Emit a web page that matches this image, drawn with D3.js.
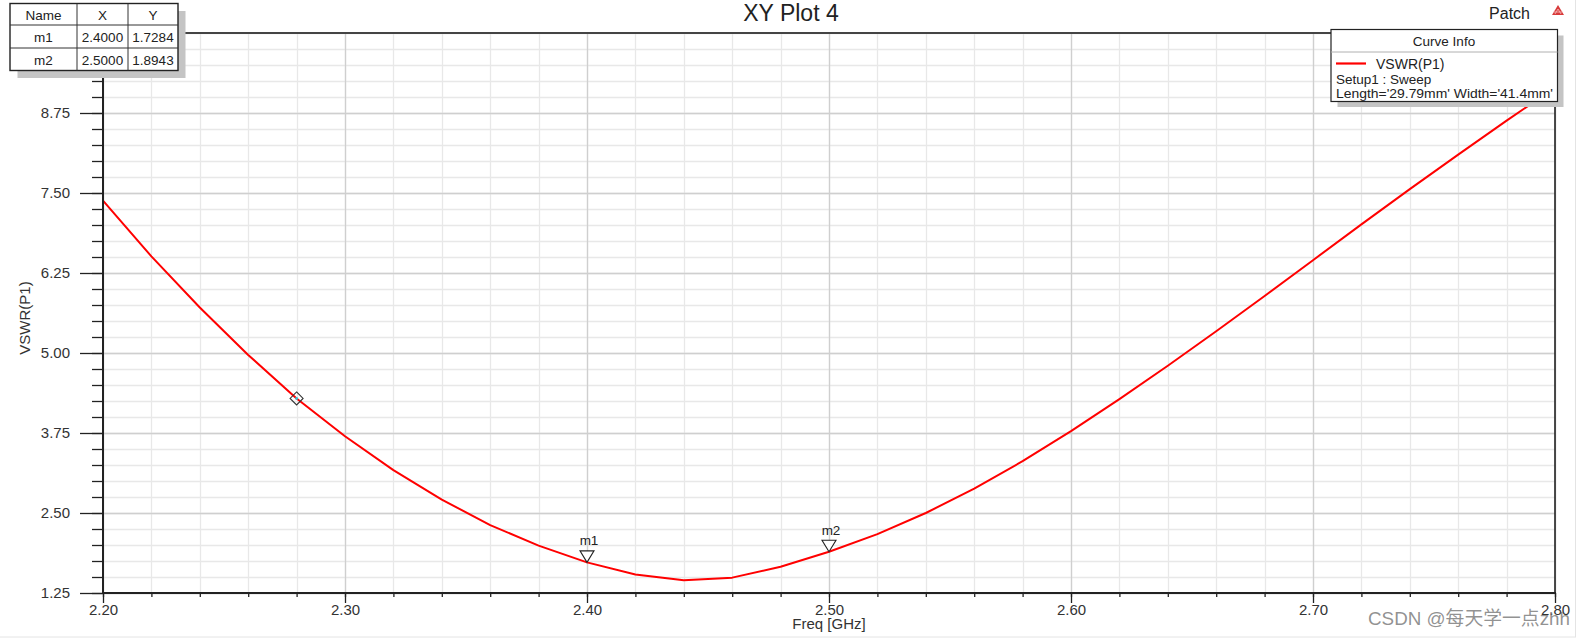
<!DOCTYPE html>
<html>
<head>
<meta charset="utf-8">
<script src="https://cdn.jsdelivr.net/npm/d3@7"></script>
<style>
  html, body { margin: 0; padding: 0; background: #ffffff; }
  svg { display: block; }
  text { font-family: "Liberation Sans", Arial, sans-serif; }
</style>
</head>
<body>
<svg id="chart" width="1584" height="638"></svg>
<script>
// ---------------- data ----------------
const title = "XY Plot 4";
const designName = "Patch";
const xLabel = "Freq [GHz]";
const yLabel = "VSWR(P1)";
const freqs = [2.20, 2.22, 2.24, 2.26, 2.28, 2.30, 2.32, 2.34, 2.36, 2.38, 2.40,
               2.42, 2.44, 2.46, 2.48, 2.50, 2.52, 2.54, 2.56, 2.58, 2.60,
               2.62, 2.64, 2.66, 2.68, 2.70, 2.72, 2.74, 2.76, 2.78, 2.80];
const vswr  = [7.38, 6.51, 5.71, 4.97, 4.29, 3.70, 3.17, 2.71, 2.31, 1.99, 1.7284,
               1.54, 1.45, 1.49, 1.66, 1.8943, 2.17, 2.50, 2.88, 3.31, 3.78,
               4.28, 4.80, 5.34, 5.89, 6.45, 7.01, 7.56, 8.10, 8.63, 9.15];
const xTicks = [2.20, 2.30, 2.40, 2.50, 2.60, 2.70, 2.80];
const xTickLabels = ["2.20", "2.30", "2.40", "2.50", "2.60", "2.70", "2.80"];
const yTicks = [1.25, 2.50, 3.75, 5.00, 6.25, 7.50, 8.75];
const yTickLabels = ["1.25", "2.50", "3.75", "5.00", "6.25", "7.50", "8.75"];
const markerNames = ["m1", "m2"];
const markerX = [2.40, 2.50];
const markerY = [1.7284, 1.8943];
const markerXText = ["2.4000", "2.5000"];
const markerYText = ["1.7284", "1.8943"];
const tableHeader = ["Name", "X", "Y"];
const legendTitle = "Curve Info";
const legendLines = ["VSWR(P1)", "Setup1 : Sweep", "Length='29.79mm' Width='41.4mm'"];
const cursorFreq = 2.28;
const watermark = "CSDN @每天学一点zhh";

// ---------------- layout ----------------
const L = 103, R = 1555, T = 33, B = 593;
const svg = d3.select("#chart");
const x = d3.scaleLinear().domain([2.2, 2.8]).range([L, R]);
const y = d3.scaleLinear().domain([1.25, 10]).range([B, T]);

const xMinor = d3.range(0, 31).map(i => 2.2 + i * 0.02);
const yMinor = d3.range(0, 36).map(i => 1.25 + i * 0.25);

// outer faint frame
svg.append("rect").attr("x", -1).attr("y", -1).attr("width", 1576.5).attr("height", 638)
  .attr("fill", "none").attr("stroke", "#e4e4e4").attr("stroke-width", 1);

// grid
const grid = svg.append("g");
grid.selectAll(".gxm").data(xMinor).enter().append("line")
  .attr("x1", d => Math.round(x(d)) + 0.5).attr("x2", d => Math.round(x(d)) + 0.5)
  .attr("y1", T).attr("y2", B).attr("stroke", "#e8e8e8").attr("stroke-width", 1.3);
grid.selectAll(".gym").data(yMinor).enter().append("line")
  .attr("y1", d => Math.round(y(d)) + 0.5).attr("y2", d => Math.round(y(d)) + 0.5)
  .attr("x1", L).attr("x2", R).attr("stroke", "#e8e8e8").attr("stroke-width", 1.3);
grid.selectAll(".gxM").data(xTicks).enter().append("line")
  .attr("x1", d => Math.round(x(d)) + 0.5).attr("x2", d => Math.round(x(d)) + 0.5)
  .attr("y1", T).attr("y2", B).attr("stroke", "#cfcfcf").attr("stroke-width", 1.3);
grid.selectAll(".gyM").data(yTicks).enter().append("line")
  .attr("y1", d => Math.round(y(d)) + 0.5).attr("y2", d => Math.round(y(d)) + 0.5)
  .attr("x1", L).attr("x2", R).attr("stroke", "#cfcfcf").attr("stroke-width", 1.3);

// curve
const line = d3.line().x((d, i) => x(freqs[i])).y(d => y(d));
svg.append("path").datum(vswr).attr("d", line)
  .attr("fill", "none").attr("stroke", "#ff0000").attr("stroke-width", 2)
  .attr("stroke-linejoin", "round");

// axes
const yAxis = d3.axisLeft(y).tickValues(yTicks).tickSize(23).tickPadding(10)
  .tickFormat((d, i) => yTickLabels[i]);
const yAxisMinor = d3.axisLeft(y).tickValues(yMinor).tickSize(11).tickFormat("");
const xAxis = d3.axisBottom(x).tickValues(xTicks).tickSize(10).tickPadding(1.5)
  .tickFormat((d, i) => xTickLabels[i]);
const xAxisMinor = d3.axisBottom(x).tickValues(xMinor).tickSize(4).tickFormat("");

function styleAxis(g) {
  g.select(".domain").remove();
  g.selectAll(".tick line").attr("stroke", "#222").attr("stroke-width", 1.3);
  g.selectAll(".tick text").attr("fill", "#333").style("font-size", "15px")
    .style("font-family", "'Liberation Sans', Arial, sans-serif");
}
svg.append("g").attr("transform", `translate(${L},0)`).call(yAxisMinor).call(styleAxis);
svg.append("g").attr("transform", `translate(${L},0)`).call(yAxis).call(styleAxis);
svg.append("g").attr("transform", `translate(0,${B})`).call(xAxisMinor).call(styleAxis);
svg.append("g").attr("transform", `translate(0,${B})`).call(xAxis).call(styleAxis);

// plot border
svg.append("line").attr("x1", L).attr("x2", L).attr("y1", T).attr("y2", B + 1)
  .attr("stroke", "#222").attr("stroke-width", 2);
svg.append("line").attr("x1", L - 1).attr("x2", R + 1).attr("y1", B).attr("y2", B)
  .attr("stroke", "#222").attr("stroke-width", 2);
svg.append("line").attr("x1", L).attr("x2", R).attr("y1", T).attr("y2", T)
  .attr("stroke", "#444").attr("stroke-width", 2);
svg.append("line").attr("x1", R).attr("x2", R).attr("y1", T).attr("y2", B)
  .attr("stroke", "#222").attr("stroke-width", 1.6);

// axis titles
svg.append("text").attr("x", (L + R) / 2).attr("y", 629).attr("text-anchor", "middle")
  .attr("fill", "#333").style("font-size", "15px").text(xLabel);
svg.append("text").attr("transform", "translate(30,318) rotate(-90)").attr("text-anchor", "middle")
  .attr("fill", "#333").style("font-size", "15px").text(yLabel);

// title, design name, logo
svg.append("text").attr("x", 791).attr("y", 21).attr("text-anchor", "middle")
  .attr("fill", "#222").style("font-size", "23px").text(title);
svg.append("text").attr("x", 1530).attr("y", 18.5).attr("text-anchor", "end")
  .attr("fill", "#222").style("font-size", "16px").text(designName);
const logo = svg.append("g").attr("transform", "translate(1558,5)");
logo.append("path").attr("d", "M0,0 L6,10 L-6,10 Z").attr("fill", "#d83a3a");
logo.append("path").attr("d", "M0,4 L3,9 M0,4 L-3,9 M-4.5,7 L4.5,7").attr("stroke", "#f3b0b0")
  .attr("stroke-width", 0.9).attr("fill", "none");

// cursor diamond at 2.28
const ci = freqs.indexOf(cursorFreq);
const cg = svg.append("g").attr("transform", `translate(${x(freqs[ci])},${y(vswr[ci])})`);
cg.append("path").attr("d", "M0,-6.5 L6.5,0 L0,6.5 L-6.5,0 Z")
  .attr("fill", "none").attr("stroke", "#333").attr("stroke-width", 1.1);
cg.append("rect").attr("x", -1.2).attr("y", -1.2).attr("width", 2.4).attr("height", 2.4).attr("fill", "#22d3e6");

// markers m1, m2
markerNames.forEach((name, i) => {
  const mx = x(markerX[i]), my = y(markerY[i]);
  const g = svg.append("g").attr("transform", `translate(${mx},${my})`);
  g.append("path").attr("d", "M-7,-11.5 L7,-11.5 L0,0 Z")
    .attr("fill", "#ffffff").attr("stroke", "#222").attr("stroke-width", 1.1);
  g.append("text").attr("x", 2).attr("y", -17).attr("text-anchor", "middle")
    .attr("fill", "#222").style("font-size", "13.5px").text(name);
});

// marker table
const tb = svg.append("g");
tb.append("rect").attr("x", 17.5).attr("y", 11).attr("width", 168).attr("height", 67).attr("fill", "#c4c4c4");
tb.append("rect").attr("x", 10).attr("y", 3.5).attr("width", 168).attr("height", 67)
  .attr("fill", "#ffffff").attr("stroke", "#222").attr("stroke-width", 1.4);
[77, 128].forEach(cx => tb.append("line").attr("x1", cx).attr("x2", cx).attr("y1", 3.5).attr("y2", 70.5)
  .attr("stroke", "#333").attr("stroke-width", 1));
[25, 48].forEach(ry => tb.append("line").attr("x1", 10).attr("x2", 178).attr("y1", ry).attr("y2", ry)
  .attr("stroke", "#333").attr("stroke-width", 1));
const colC = [43.5, 102.5, 153];
const rowB = [19.5, 41.5, 64.5];
tableHeader.forEach((h, j) => tb.append("text").attr("x", colC[j]).attr("y", rowB[0])
  .attr("text-anchor", "middle").attr("fill", "#222").style("font-size", "13.5px").text(h));
markerNames.forEach((n, i) => {
  [n, markerXText[i], markerYText[i]].forEach((t, j) => tb.append("text").attr("x", colC[j]).attr("y", rowB[i + 1])
    .attr("text-anchor", "middle").attr("fill", "#222").style("font-size", "13.5px").text(t));
});

// legend
const lg = svg.append("g");
lg.append("rect").attr("x", 1337.5).attr("y", 35.5).attr("width", 226).attr("height", 71.5).attr("fill", "#c4c4c4");
lg.append("rect").attr("x", 1331).attr("y", 29.5).attr("width", 226.5).attr("height", 72)
  .attr("fill", "#ffffff").attr("stroke", "#222").attr("stroke-width", 1.2);
lg.append("line").attr("x1", 1331).attr("x2", 1557.5).attr("y1", 52).attr("y2", 52)
  .attr("stroke", "#b0b0b0").attr("stroke-width", 1);
lg.append("text").attr("x", 1444).attr("y", 46).attr("text-anchor", "middle")
  .attr("fill", "#222").style("font-size", "13.5px").text(legendTitle);
lg.append("line").attr("x1", 1336).attr("x2", 1366).attr("y1", 63.5).attr("y2", 63.5)
  .attr("stroke", "#ff0000").attr("stroke-width", 2.2);
lg.append("text").attr("x", 1376).attr("y", 68.5).attr("fill", "#222").style("font-size", "14px").text(legendLines[0]);
lg.append("text").attr("x", 1336).attr("y", 83.5).attr("fill", "#222").style("font-size", "13.5px").text(legendLines[1]);
lg.append("text").attr("x", 1336).attr("y", 97.5).attr("fill", "#222").style("font-size", "13.5px")
  .attr("textLength", 217).attr("lengthAdjust", "spacingAndGlyphs").text(legendLines[2]);

// watermark
svg.append("text").attr("x", 1368).attr("y", 625).attr("fill", "rgba(110,110,110,0.75)")
  .style("font-size", "19px").style("font-family", "'Liberation Sans', 'Noto Sans CJK SC', sans-serif")
  .attr("textLength", 202).attr("lengthAdjust", "spacingAndGlyphs").text(watermark);
</script>
</body>
</html>
